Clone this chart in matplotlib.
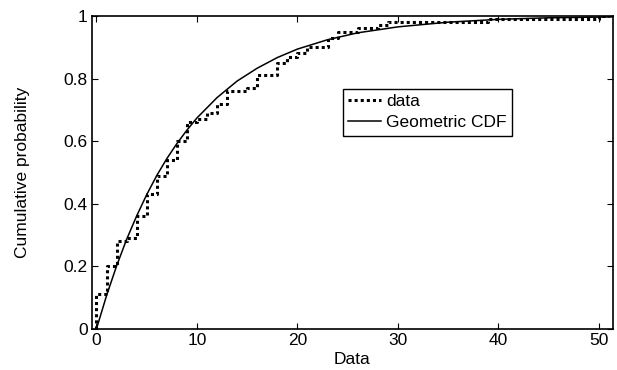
import matplotlib
matplotlib.use("Agg")
import matplotlib.pyplot as plt

data_x = [0, 0, 1, 2, 3, 4, 5, 6, 7, 8, 9, 10, 11, 12, 13, 15, 16, 18, 19,
          20, 21, 23, 24, 26, 28, 29, 39, 50, 51]
data_y = [0, 0.11, 0.20, 0.28, 0.29, 0.36, 0.43, 0.49, 0.54, 0.60, 0.66, 0.67,
          0.69, 0.72, 0.76, 0.77, 0.81, 0.85, 0.87, 0.88, 0.90, 0.93, 0.95,
          0.96, 0.97, 0.98, 0.99, 1.00, 1.00]

# fitted geometric CDF, sampled along the drawn curve
geo_x = [0, 1, 2, 3, 4, 5, 6, 7, 8, 9, 10, 12, 14, 16, 18, 20, 23, 26, 30,
         35, 40, 45, 52]
geo_y = [0, 0.106, 0.201, 0.286, 0.361, 0.429, 0.490, 0.544, 0.592, 0.635,
         0.674, 0.739, 0.792, 0.833, 0.867, 0.894, 0.924, 0.946, 0.965,
         0.980, 0.989, 0.994, 0.997]

xticks = [0, 10, 20, 30, 40, 50]
yticks = [0, 0.2, 0.4, 0.6, 0.8, 1]
ytick_labels = ["0", "0.2", "0.4", "0.6", "0.8", "1"]

plt.rcParams["font.family"] = ["Liberation Sans", "DejaVu Sans"]
plt.rcParams["font.size"] = 12.5

fig = plt.figure(figsize=(6.17, 3.7), dpi=100)
ax = fig.add_axes([0.149, 0.111, 0.8445, 0.846])

ax.step(data_x, data_y, where="post", color="black", linestyle=(0, (1, 1)),
        linewidth=2.2, label="data")
ax.plot(geo_x, geo_y, color="black", linewidth=1.1, label="Geometric CDF")

ax.set_xlim(-0.45, 51.4)
ax.set_ylim(0, 1)
ax.set_xticks(xticks)
ax.set_yticks(yticks)
ax.set_yticklabels(ytick_labels)
ax.tick_params(direction="in", length=4, width=0.8, top=True, right=True,
               pad=3, labelsize=12.5)
for side in ax.spines.values():
    side.set_linewidth(1.2)

ax.set_xlabel("Data", labelpad=3)
ax.set_ylabel("Cumulative probability", labelpad=24)

leg = ax.legend(loc="upper left", bbox_to_anchor=(0.482, 0.767),
                borderaxespad=0, fancybox=False, edgecolor="black",
                framealpha=1, handlelength=1.9, handletextpad=0.3,
                borderpad=0.3, labelspacing=0.35, fontsize=12.5)
leg.get_frame().set_linewidth(1.0)

fig.savefig("out.png", dpi=100)
